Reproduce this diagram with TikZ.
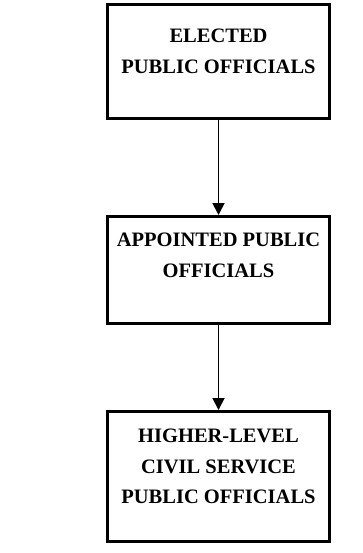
\documentclass[tikz,border=0pt]{standalone}
\usepackage{fontspec}
\setmainfont{Liberation Serif}
\usetikzlibrary{arrows.meta,positioning}
\tikzset{
  boxnode/.style={draw=black,line width=3pt,inner sep=0pt,anchor=north west},
  lbl/.style={font=\bfseries\fontsize{20.5}{30.5}\selectfont,align=center,anchor=north,inner sep=0pt},
  conn/.style={line width=1.8pt,-{Triangle[length=12pt,width=12pt]}}
}
\begin{document}
\begin{tikzpicture}[x=1pt,y=-1pt]
\useasboundingbox (0,0) rectangle (362,553);
\node[boxnode,minimum width=222pt,minimum height=114pt] (b1) at (106,3) {};
\node[boxnode,minimum width=222pt,minimum height=107pt] (b2) at (106,215) {};
\node[boxnode,minimum width=222pt,minimum height=130pt] (b3) at (106,410) {};
\node[lbl] (t1) at ([yshift=-26pt]b1.north) {ELECTED\\PUBLIC OFFICIALS};
\node[lbl] (t2) at ([yshift=-18pt]b2.north) {APPOINTED PUBLIC\\OFFICIALS};
\node[lbl] (t3) at ([yshift=-19pt]b3.north) {HIGHER-LEVEL\\CIVIL SERVICE\\PUBLIC OFFICIALS};
\draw[conn] (b1.south) -- (b2.north);
\draw[conn] (b2.south) -- (b3.north);
\end{tikzpicture}
\end{document}
